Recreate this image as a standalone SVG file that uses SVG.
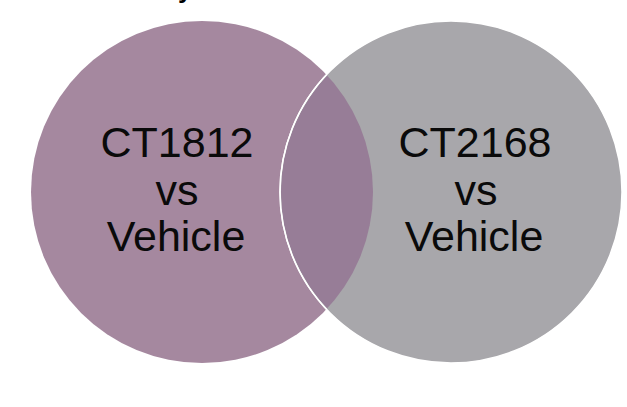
<svg xmlns="http://www.w3.org/2000/svg" width="627" height="407" viewBox="0 0 627 407">
  <style>
    .label { font-family: "Liberation Sans", Arial, sans-serif; font-size: 43px; fill: #0a0a0a; text-anchor: middle; }
  </style>
  <defs>
    <clipPath id="leftClip">
      <circle cx="202" cy="192" r="171"/>
    </clipPath>
  </defs>
  <rect width="627" height="407" fill="#ffffff"/>

  <!-- descender of the title line above the frame -->
  <text x="178" y="-2" font-family="Liberation Sans, Arial, sans-serif" font-weight="bold" font-size="26" fill="#000">y</text>

  <g id="set-ct1812">
    <circle cx="202" cy="192" r="171" fill="#a5889f"/>
  </g>

  <g id="set-ct2168">
    <circle cx="451" cy="192" r="171" fill="#a8a7ab" stroke="#ffffff" stroke-width="1.5"/>
  </g>

  <g id="overlap">
    <circle cx="451" cy="192" r="170" fill="#977d97" clip-path="url(#leftClip)"/>
    <circle cx="451" cy="192" r="171" fill="none" stroke="#ffffff" stroke-width="1.5" clip-path="url(#leftClip)"/>
  </g>

  <g id="label-ct1812">
    <text class="label" x="177" y="157">CT1812</text>
    <text class="label" x="177" y="205">vs</text>
    <text class="label" x="176" y="251">Vehicle</text>
  </g>

  <g id="label-ct2168">
    <text class="label" x="475" y="157">CT2168</text>
    <text class="label" x="476" y="205">vs</text>
    <text class="label" x="474" y="251">Vehicle</text>
  </g>
</svg>
